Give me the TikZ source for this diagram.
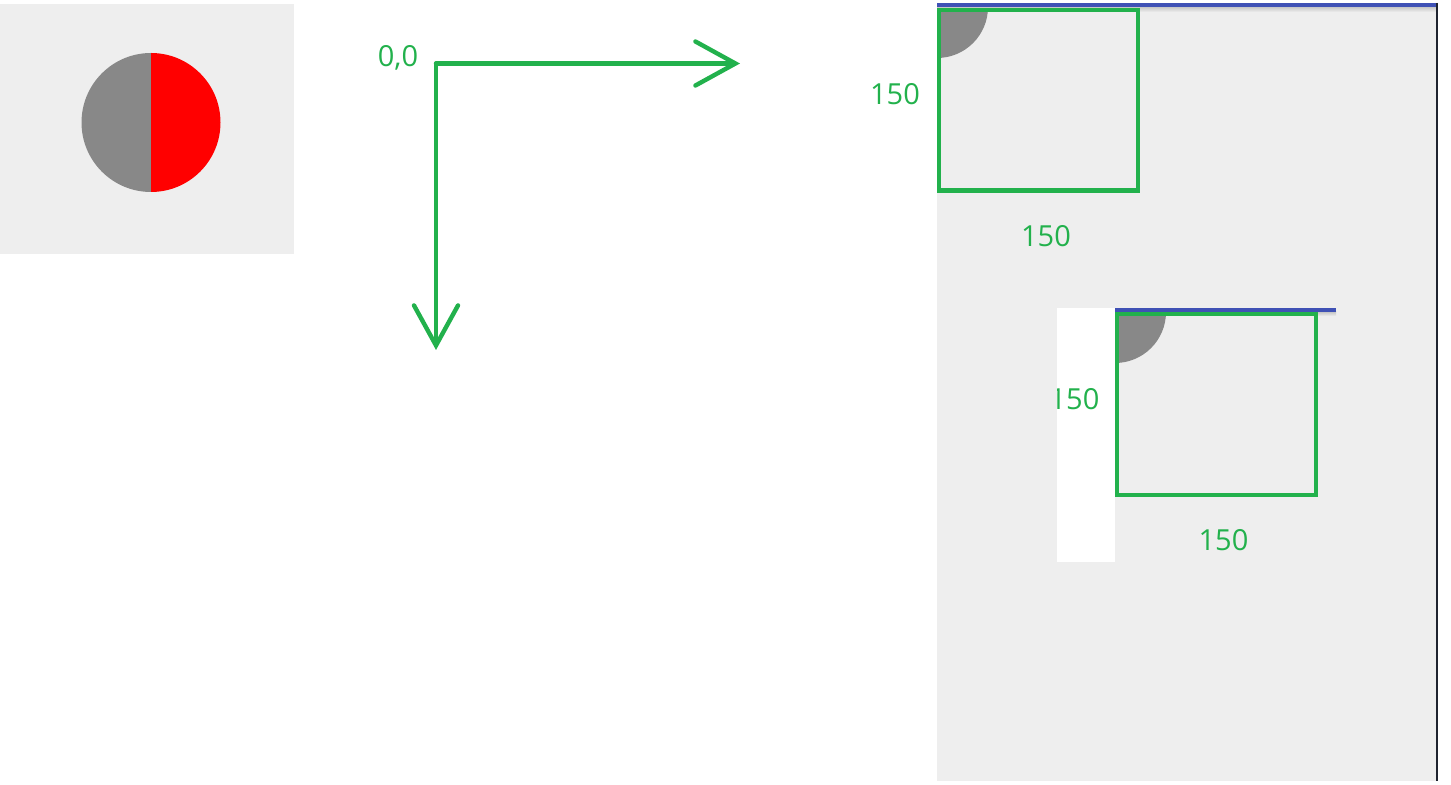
\documentclass[tikz,border=0pt]{standalone}
\usepackage{fontspec}
\setmainfont{Open Sans}
\usetikzlibrary{arrows.meta}
\definecolor{paintgreen}{HTML}{22B14C}
\definecolor{panelgray}{HTML}{EEEEEE}
\definecolor{ballgray}{HTML}{888888}
\definecolor{barblue}{HTML}{3F51B5}
\definecolor{edgedark}{HTML}{1F2430}
\tikzset{
  label150/.style={anchor=center, text=paintgreen, font=\fontsize{14.5}{17}\selectfont, inner sep=0pt},
  axisline/.style={draw=paintgreen, line width=2.2pt, line cap=round, -{Straight Barb[length=20pt,width=22pt,line cap=round]}},
  measurebox/.style={draw=paintgreen, line width=2.25pt}
}
\begin{document}
\begin{tikzpicture}[x=0.5pt, y=-0.5pt]
	\useasboundingbox (0,0) rectangle (1451,785);
	% left panel with the ball
	\fill[panelgray] (0,4) rectangle (294,254);
	\begin{scope}
		\clip (0,0) rectangle (151,300);
		\fill[ballgray] (151,122.5) circle[radius=34.75pt];
	\end{scope}
	\begin{scope}
		\clip (151,0) rectangle (300,300);
		\fill[red] (151,122.5) circle[radius=34.75pt];
	\end{scope}
	% axes
	\coordinate (origin) at (436,63.5);
	\coordinate (xaxis) at (740,63.5);
	\coordinate (yaxis) at (436,350);
	\node [label150] (zero) at (398,57.5) {0,0};
	\draw[axisline] (origin) -- (xaxis);
	\draw[axisline] (origin) -- (yaxis);
	% right panel
	\fill[panelgray] (937,3) rectangle (1437,781);
	\begin{scope}
		\clip (937,7) rectangle (1100,120);
		\fill[ballgray] (937,7) circle[radius=25.5pt];
	\end{scope}
	\shade[top color=black!22, bottom color=panelgray] (937,7) rectangle (1436,12);
	\fill[barblue] (937,3) rectangle (1436,7);
	\draw[measurebox] (939,10) rectangle (1138,190.5);
	\node [label150] (leftA) at (895,94) {150};
	\node [label150] (bottomA) at (1046,236) {150};
	% shifted view
	\fill[white] (1057,308) rectangle (1115,562);
	\begin{scope}
		\clip (1115,312) rectangle (1300,420);
		\fill[ballgray] (1115,312) circle[radius=25.5pt];
	\end{scope}
	\shade[top color=black!22, bottom color=panelgray] (1115,312) rectangle (1336,316);
	\fill[barblue] (1115,308) rectangle (1336,312);
	\draw[measurebox] (1117,314) rectangle (1316,495);
	\begin{scope}
		\clip (1057,308) rectangle (1115,562);
		\node [label150] (leftB) at (1074.5,399) {150};
	\end{scope}
	\node [label150] (bottomB) at (1223.5,540) {150};
	\draw[edgedark, line width=1pt] (1437,3) -- (1437,781);
\end{tikzpicture}
\end{document}
